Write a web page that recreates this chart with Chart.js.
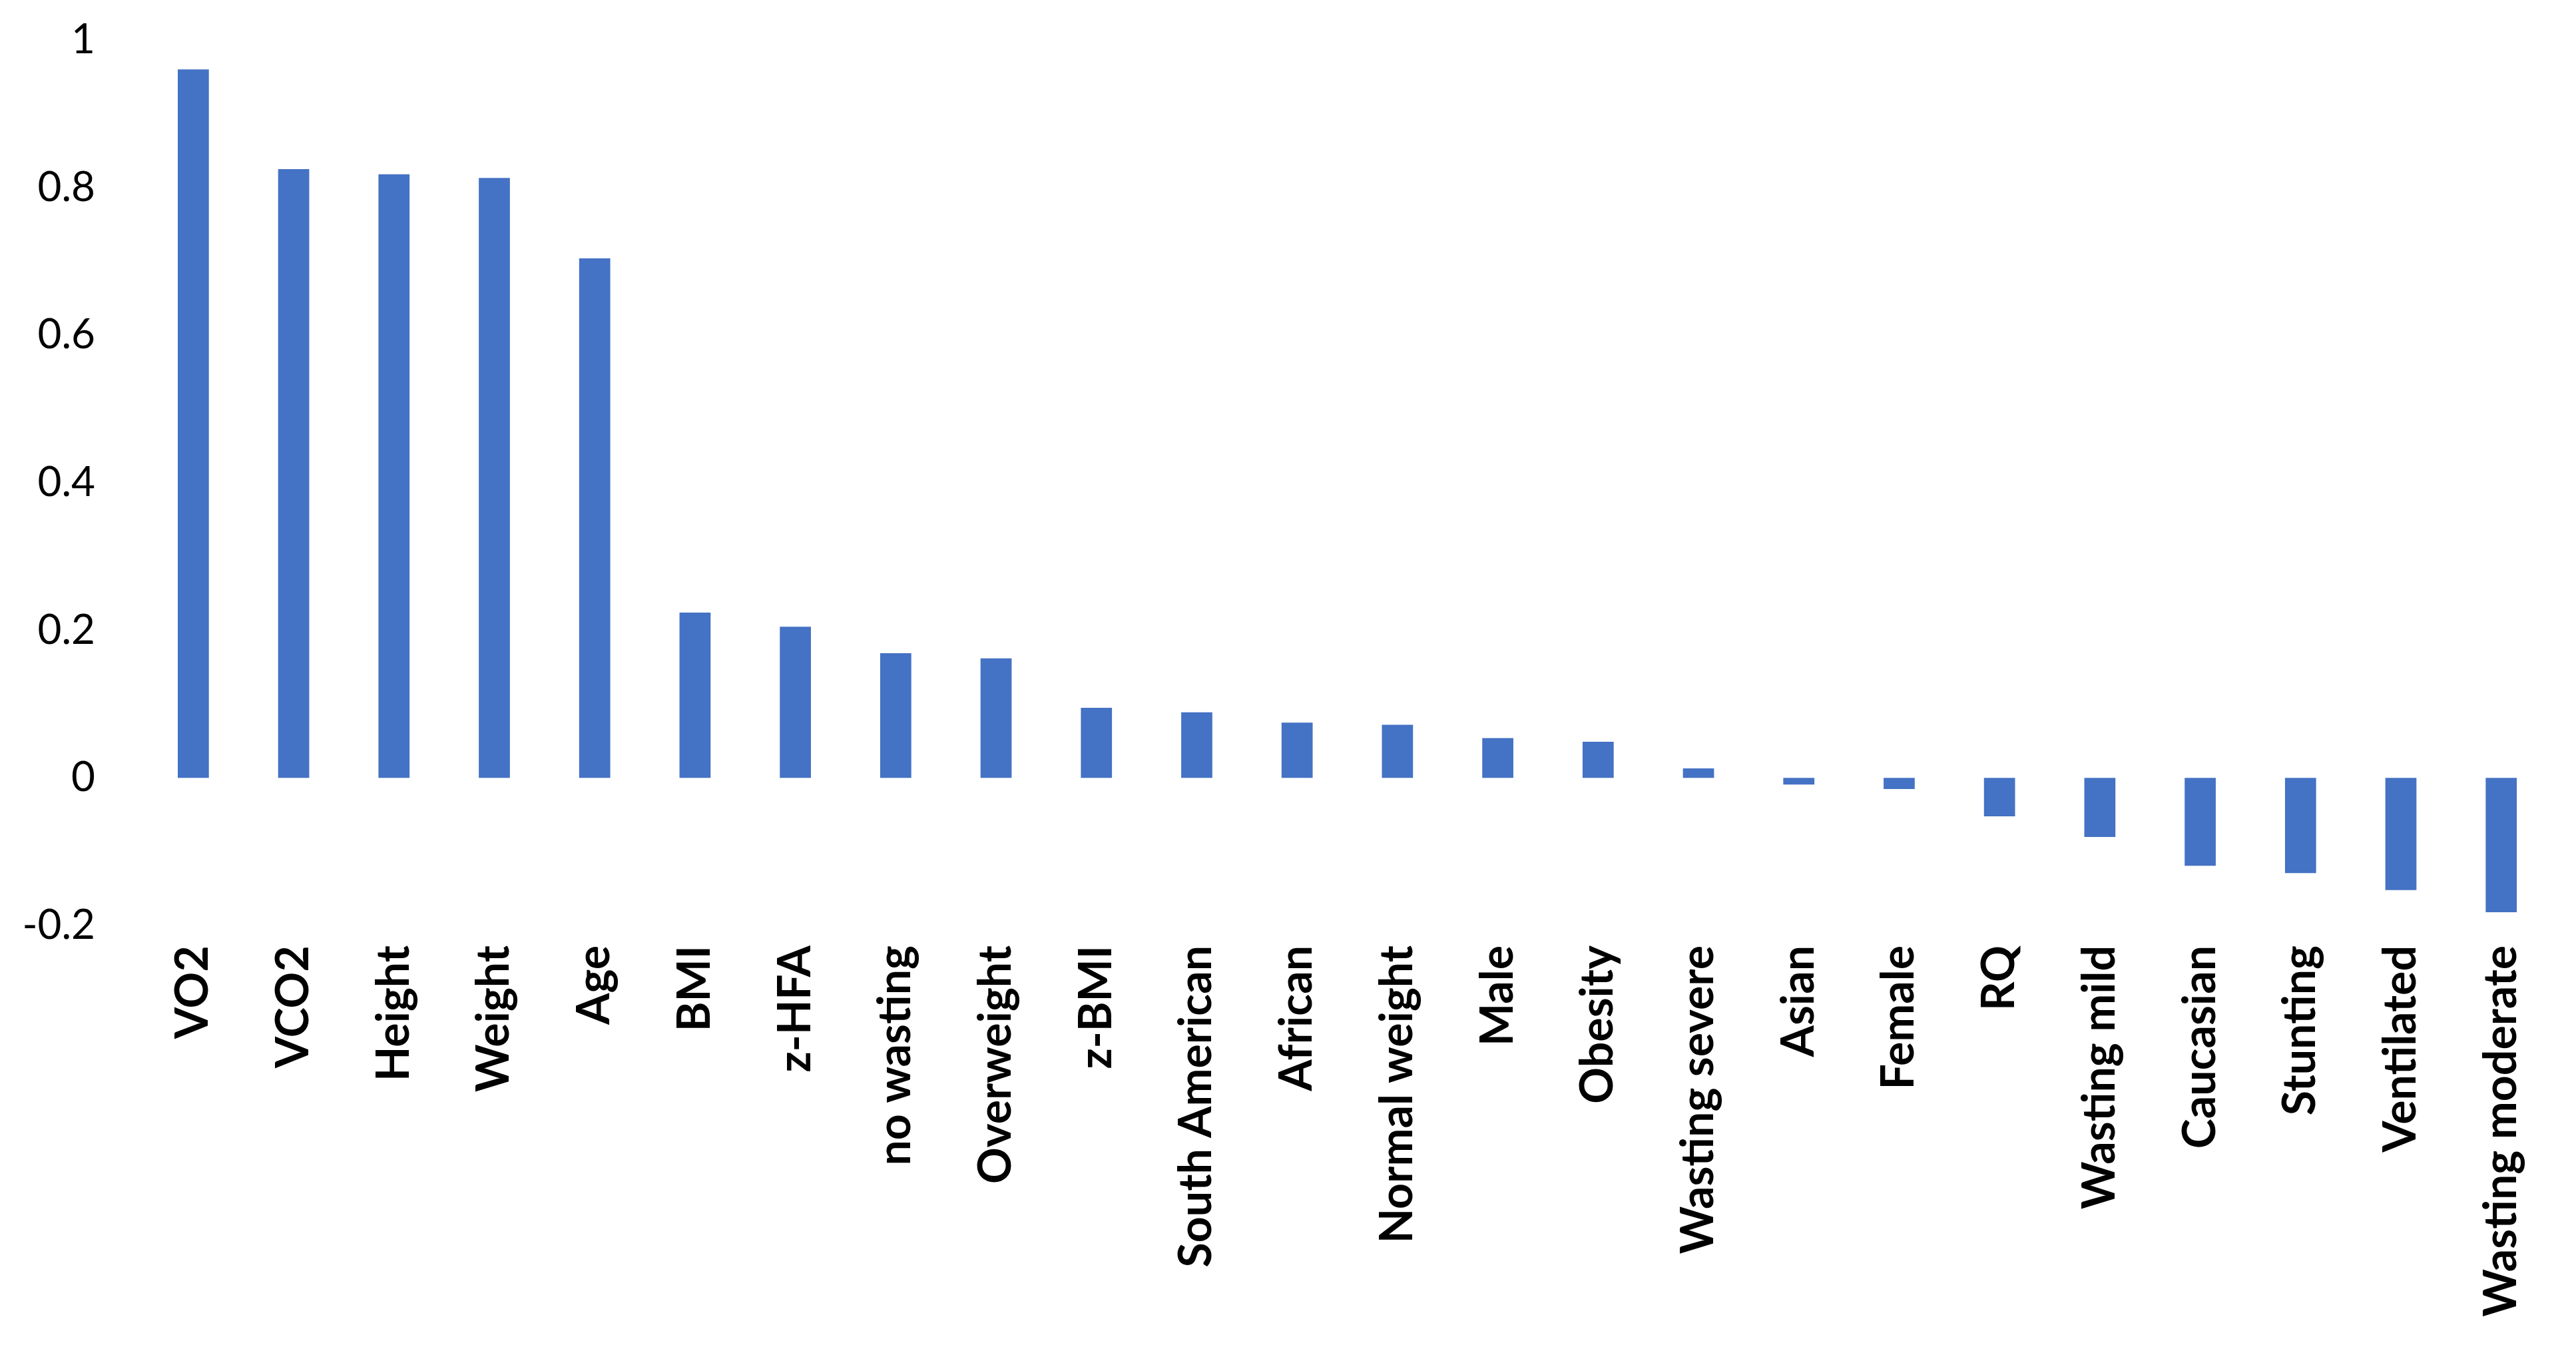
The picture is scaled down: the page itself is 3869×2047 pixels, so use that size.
<!DOCTYPE html>
<html>
<head>
<meta charset="utf-8">
<title>Feature correlation</title>
<script src="https://cdn.jsdelivr.net/npm/chart.js@4.4.1/dist/chart.umd.min.js"></script>
<style>
  html, body { margin: 0; padding: 0; background: #ffffff; }
  #wrap { width: 3869px; height: 2047px; position: relative; }
</style>
</head>
<body>
<div id="wrap"><canvas id="corrChart"></canvas></div>
<script>
// categories, left to right
const features = ['VO2', 'VCO2', 'Height', 'Weight', 'Age', 'BMI', 'z-HFA', 'no wasting',
    'Overweight', 'z-BMI', 'South American', 'African', 'Normal weight', 'Male', 'Obesity',
    'Wasting severe', 'Asian', 'Female', 'RQ', 'Wasting mild', 'Caucasian', 'Stunting',
    'Ventilated', 'Wasting moderate'];

// values
const correlations = [0.960, 0.825, 0.818, 0.813, 0.704, 0.224, 0.205, 0.169,
    0.162, 0.095, 0.089, 0.075, 0.072, 0.054, 0.049,
    0.013, -0.009, -0.015, -0.052, -0.080, -0.119, -0.129,
    -0.152, -0.182];

// y axis tick labels
const yTickLabels = ['-0.2', '0', '0.2', '0.4', '0.6', '0.8', '1'];
const yMin = -0.2;
const yMax = 1;
const yStep = 0.2;

const ctx = document.getElementById('corrChart').getContext('2d');

new Chart(ctx, {
    type: 'bar',
    data: {
        labels: features,
        datasets: [{
            data: correlations,
            backgroundColor: '#4472C4',
            borderWidth: 0,
            barPercentage: 0.62,
            categoryPercentage: 0.5
        }]
    },
    options: {
        responsive: true,
        maintainAspectRatio: false,
        animation: false,
        devicePixelRatio: 1,
        layout: {
            padding: { top: 60, right: 33, bottom: 0, left: 0 }
        },
        plugins: {
            legend: { display: false },
            tooltip: { enabled: false }
        },
        scales: {
            x: {
                grid: { display: false, drawTicks: false },
                border: { display: false },
                ticks: {
                    autoSkip: false,
                    maxRotation: 90,
                    minRotation: 90,
                    padding: 30,
                    color: '#000000',
                    font: { family: 'Lato', size: 68, weight: 'bold' }
                },
                afterFit: (scale) => { scale.height = 657; }
            },
            y: {
                min: yMin,
                max: yMax,
                grid: { display: false, drawTicks: false },
                border: { display: false },
                ticks: {
                    stepSize: yStep,
                    padding: 72,
                    color: '#000000',
                    font: { family: 'Lato', size: 62 },
                    callback: (value, index) => yTickLabels[index]
                },
                afterFit: (scale) => {
                    scale.width = 215;
                    // tick padding should only push labels sideways
                    scale.paddingTop = 37;
                    scale.paddingBottom = 37;
                }
            }
        }
    }
});
</script>
</body>
</html>
